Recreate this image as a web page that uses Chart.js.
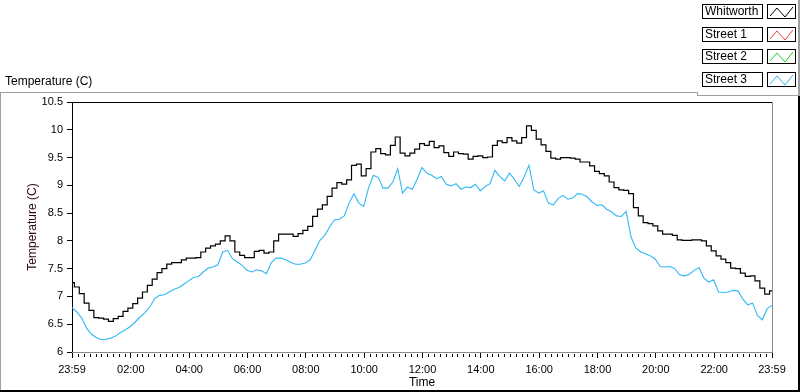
<!DOCTYPE html>
<html>
<head>
<meta charset="utf-8">
<script src="https://cdn.jsdelivr.net/npm/chart.js@4.4.1/dist/chart.umd.min.js"></script>
<style>
  html, body { margin: 0; padding: 0; background: #fff; }
  #wrap { width: 800px; height: 392px; }
</style>
</head>
<body>
<div id="wrap"><canvas id="tempChart" width="800" height="392"></canvas></div>
<script>
// minutes after 23:59 -> one sample every 10 min
const sampleStep = 10;
const xTickValues = [-1, 120, 240, 360, 480, 600, 720, 840, 960, 1080, 1200, 1320, 1439];
const xTickLabels = ['23:59', '02:00', '04:00', '06:00', '08:00', '10:00', '12:00', '14:00', '16:00', '18:00', '20:00', '22:00', '23:59'];
const yTickValues = [6, 6.5, 7, 7.5, 8, 8.5, 9, 9.5, 10, 10.5];

const whitworth = [
  7.25, 7.17, 7.05, 6.88, 6.75, 6.62, 6.61, 6.59, 6.55, 6.60,
  6.64, 6.73, 6.79, 6.87, 6.97, 7.08, 7.20, 7.31, 7.43, 7.50,
  7.58, 7.61, 7.61, 7.66, 7.69, 7.69, 7.70, 7.80, 7.87, 7.91,
  7.94, 8.00, 8.09, 8.00, 7.80, 7.74, 7.70, 7.70, 7.81, 7.83,
  7.78, 7.80, 8.00, 8.12, 8.12, 8.12, 8.08, 8.13, 8.19, 8.26,
  8.44, 8.57, 8.65, 8.80, 8.95, 9.05, 9.02, 9.10, 9.36, 9.38,
  9.17, 9.30, 9.60, 9.66, 9.57, 9.55, 9.72, 9.87, 9.58, 9.53,
  9.58, 9.65, 9.75, 9.72, 9.79, 9.68, 9.71, 9.59, 9.52, 9.60,
  9.57, 9.56, 9.47, 9.52, 9.53, 9.50, 9.51, 9.72, 9.80, 9.77,
  9.86, 9.80, 9.76, 9.86, 10.07, 9.99, 9.83, 9.73, 9.61, 9.49,
  9.47, 9.50, 9.50, 9.49, 9.47, 9.42, 9.42, 9.35, 9.25, 9.21,
  9.17, 9.06, 8.96, 8.92, 8.91, 8.85, 8.60, 8.45, 8.33, 8.31,
  8.27, 8.18, 8.12, 8.12, 8.10, 8.02, 8.01, 8.01, 8.02, 8.02,
  8.00, 7.91, 7.82, 7.73, 7.67, 7.61, 7.51, 7.50, 7.42, 7.36,
  7.37, 7.28, 7.15, 7.04, 7.10
];

const street3 = [
  6.80, 6.72, 6.61, 6.43, 6.32, 6.26, 6.22, 6.23, 6.25, 6.29,
  6.35, 6.40, 6.46, 6.54, 6.63, 6.71, 6.81, 6.96, 7.02, 7.03,
  7.08, 7.13, 7.16, 7.22, 7.28, 7.34, 7.36, 7.44, 7.51, 7.53,
  7.57, 7.80, 7.83, 7.68, 7.62, 7.56, 7.47, 7.44, 7.48, 7.46,
  7.41, 7.61, 7.69, 7.69, 7.66, 7.61, 7.58, 7.58, 7.60, 7.66,
  7.83, 8.01, 8.10, 8.25, 8.38, 8.39, 8.45, 8.68, 8.85, 8.68,
  8.62, 8.95, 9.18, 9.14, 8.95, 8.95, 9.06, 9.30, 8.86, 8.97,
  8.93, 9.11, 9.32, 9.22, 9.18, 9.12, 9.16, 9.02, 8.99, 9.03,
  8.93, 8.97, 8.96, 9.02, 8.90, 8.98, 9.03, 9.27, 9.16, 9.08,
  9.22, 9.11, 8.98, 9.15, 9.36, 8.92, 8.86, 8.90, 8.68, 8.65,
  8.76, 8.82, 8.75, 8.77, 8.85, 8.84, 8.79, 8.70, 8.64, 8.65,
  8.57, 8.52, 8.45, 8.44, 8.53, 8.07, 7.87, 7.80, 7.77, 7.73,
  7.67, 7.54, 7.53, 7.54, 7.50, 7.39, 7.37, 7.40, 7.47, 7.52,
  7.33, 7.26, 7.30, 7.08, 7.07, 7.08, 7.11, 7.10, 6.95, 6.85,
  6.88, 6.66, 6.58, 6.78, 6.84
];

// Street 1 / Street 2 have no samples in this plot, only legend entries
const street1 = [];
const street2 = [];

const FONT = '"Liberation Sans", Arial, sans-serif';

function toPoints(arr) {
  return arr.map((v, i) => ({ x: i * sampleStep - 1, y: v }));
}

function line(ctx, x1, y1, x2, y2, color, w) {
  ctx.strokeStyle = color;
  ctx.lineWidth = w || 1;
  ctx.beginPath();
  ctx.moveTo(x1, y1);
  ctx.lineTo(x2, y2);
  ctx.stroke();
}

// frame, minor ticks, caption and legend like the LabVIEW panel
const panelPlugin = {
  id: 'panel',
  beforeDraw(chart) {
    const ctx = chart.ctx;
    ctx.save();
    ctx.fillStyle = '#fff';
    ctx.fillRect(0, 0, chart.width, chart.height);
    ctx.restore();
  },
  afterDraw(chart) {
    const ctx = chart.ctx;
    const a = chart.chartArea;
    const xs = chart.scales.x;
    ctx.save();

    // plot frame
    line(ctx, a.left, a.top + 0.5, a.right, a.top + 0.5, '#000');
    line(ctx, a.right + 0.5, a.top, a.right + 0.5, a.bottom + 1, '#8a8a8a');
    line(ctx, a.left, a.bottom + 0.5, a.right + 1, a.bottom + 0.5, '#8a8a8a');

    // minor ticks on time axis
    for (let j = 0; j < xTickValues.length - 1; j++) {
      const p0 = xs.getPixelForValue(xTickValues[j]);
      const p1 = xs.getPixelForValue(xTickValues[j + 1]);
      for (let k = 1; k < 10; k++) {
        const px = Math.round(p0 + (p1 - p0) * k / 10) + 0.5;
        line(ctx, px, a.bottom + 2, px, a.bottom + 5, '#000');
      }
    }

    // outer panel frame
    line(ctx, 0, 92.5, 698, 92.5, '#a0a0a0');
    line(ctx, 0.5, 92, 0.5, 392, '#a0a0a0');
    line(ctx, 697.5, 92, 697.5, 96, '#a0a0a0');
    line(ctx, 697, 95.5, 800, 95.5, '#a0a0a0');
    line(ctx, 799, 0, 799, 96, '#a0a0a0', 2);
    line(ctx, 799, 96, 799, 392, '#000', 2);
    line(ctx, 0, 391, 800, 391, '#000', 2);

    // caption
    ctx.fillStyle = '#000';
    ctx.font = '12px ' + FONT;
    ctx.textAlign = 'left';
    ctx.textBaseline = 'middle';
    ctx.fillText('Temperature (C)', 5, 82);

    // legend
    const tops = [5, 28, 50, 73];
    chart.data.datasets.forEach((ds, i) => {
      const y = tops[i];
      ctx.fillStyle = '#fff';
      ctx.fillRect(703, y, 59, 13);
      ctx.strokeStyle = '#000';
      ctx.lineWidth = 1;
      ctx.strokeRect(702.5, y - 0.5, 60, 14);
      ctx.strokeRect(767.5, y - 0.5, 28, 14);
      ctx.fillStyle = '#000';
      ctx.fillText(ds.label, 705, y + 7);
      ctx.strokeStyle = ds.borderColor;
      ctx.beginPath();
      ctx.moveTo(770, y + 11);
      ctx.lineTo(777, y + 3);
      ctx.lineTo(785, y + 12);
      ctx.lineTo(793, y + 2);
      ctx.stroke();
    });

    ctx.restore();
  }
};

const ctx = document.getElementById('tempChart').getContext('2d');
new Chart(ctx, {
  type: 'line',
  data: {
    datasets: [
      { label: 'Whitworth', data: toPoints(whitworth), borderColor: '#000000', borderWidth: 1.2, stepped: 'middle' },
      { label: 'Street 1', data: toPoints(street1), borderColor: '#ff3b3b', borderWidth: 1 },
      { label: 'Street 2', data: toPoints(street2), borderColor: '#1fd21f', borderWidth: 1 },
      { label: 'Street 3', data: toPoints(street3), borderColor: '#30b8f5', borderWidth: 1.1 }
    ]
  },
  options: {
    responsive: false,
    animation: false,
    layout: { padding: { left: 0, right: 28, top: 102, bottom: 0 } },
    elements: { point: { radius: 0 }, line: { tension: 0 } },
    plugins: { legend: { display: false }, tooltip: { enabled: false } },
    scales: {
      x: {
        type: 'linear',
        min: -1,
        max: 1439,
        afterFit: s => { s.height = 40; },
        afterBuildTicks: s => { s.ticks = xTickValues.map(v => ({ value: v })); },
        border: { display: false },
        grid: { drawOnChartArea: false, tickLength: 6, color: '#000', tickColor: '#000' },
        ticks: {
          autoSkip: false,
          maxRotation: 0,
          padding: 5,
          color: '#000',
          font: { family: FONT, size: 11 },
          callback: (v, i) => xTickLabels[i]
        },
        title: { display: true, text: 'Time', color: '#000', font: { family: FONT, size: 12 }, padding: { top: 0, bottom: 2 } }
      },
      y: {
        min: 6,
        max: 10.5,
        afterFit: s => { s.width = 72; },
        afterBuildTicks: s => { s.ticks = yTickValues.map(v => ({ value: v })); },
        border: { display: true, color: '#000', width: 1 },
        grid: { drawOnChartArea: false, tickLength: 5, tickColor: '#000' },
        ticks: {
          padding: 4,
          color: '#000',
          font: { family: FONT, size: 11 },
          callback: v => String(v)
        },
        title: { display: true, text: 'Temperature (C)', color: '#2a0808', font: { family: FONT, size: 12 }, padding: { top: 25, bottom: 0 } }
      }
    }
  },
  plugins: [panelPlugin]
});
</script>
</body>
</html>
